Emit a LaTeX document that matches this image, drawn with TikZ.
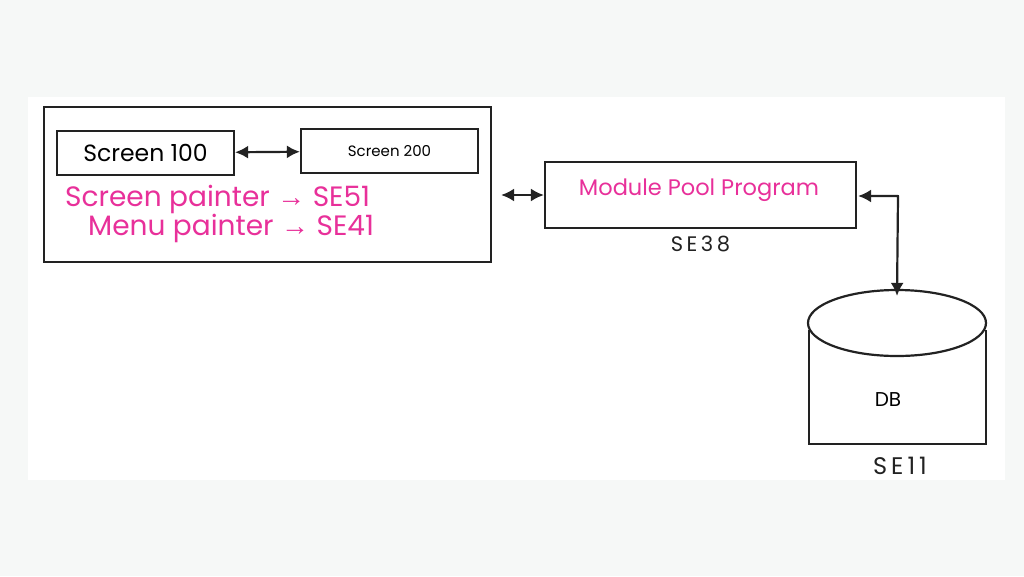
\documentclass[tikz,border=0pt]{standalone}
\usepackage{fontspec}
\setmainfont{Poppins}
\newfontfamily\arrowfont{Liberation Sans}
\usetikzlibrary{shapes.geometric,arrows.meta,positioning}
\definecolor{bgray}{HTML}{F6F8F7}
\definecolor{lgray}{HTML}{222222}
\definecolor{pinktxt}{HTML}{E8309A}
\tikzstyle{r} = [rectangle, draw=lgray, line width=2.2pt, inner sep=0pt]
\tikzstyle{con} = [draw=lgray, line width=2.2pt, {Latex[length=13pt,width=13pt]}-{Latex[length=13pt,width=13pt]}]
\tikzstyle{pinklabel} = [text=pinktxt, font=\fontsize{28}{29.5}\selectfont, anchor=west, align=left, inner sep=0pt]
\newcommand{\rarr}{{\arrowfont →}}

\begin{document}
\begin{tikzpicture}[x=1pt,y=-1pt]
		\fill[bgray] (0,0) rectangle (1024,576);
		\fill[white] (28,97) rectangle (1005,480);
		\useasboundingbox (0,0) rectangle (1024,576);

		\node[r, minimum width=447pt, minimum height=155pt] (screens) at (267.5,184.5) {};
		\node[r, minimum width=177pt, minimum height=44pt, font=\fontsize{23.5}{27}\selectfont] (s100) at (145.5,153) {Screen 100};
		\node[r, minimum width=177pt, minimum height=44pt, font=\fontsize{15}{18}\selectfont] (s200) at (389.5,151) {Screen 200};
		\node[pinklabel] (painters) at (65,214) {Screen painter \rarr{} SE51\\\hspace*{23pt}Menu painter \rarr{} SE41};

		\node[r, minimum width=311pt, minimum height=66pt] (mpp) at (700.5,195) {};
		\node[text=pinktxt, font=\fontsize{22.5}{26}\selectfont] (mpptext) at (699,190) {Module Pool Program};
		\node[below=3pt of mpp, font=\fontsize{21}{24}\selectfont, text=lgray] (se38) {S\,E\,3\,8};

		\node[ellipse, draw=lgray, line width=2.2pt, minimum width=178pt, minimum height=66pt, inner sep=0pt] (db) at (897,323) {};
		\node[font=\fontsize{20}{24}\selectfont, text=black] (dbtext) at (888,400) {DB};
		\node[font=\fontsize{24}{28}\selectfont, text=lgray] (se11) at (900,466) {S\,E\,1\,1};
		\coordinate (dbl) at (809,330);
		\coordinate (dbr) at (986,330);
		\coordinate (corner) at (898,196);

		\draw[con] (s100) -- (s200);
		\draw[con] ([xshift=9pt]screens.east |- mpp.west) -- (mpp.west);
		\draw[draw=lgray, line width=2.2pt, line join=round, {Latex[length=13pt,width=13pt]}-{Latex[length=13pt,width=13pt]}] ([xshift=1pt]mpp.east |- corner) -- (corner) -- ([yshift=-7pt]db.north);
		\draw[draw=lgray, line width=2.2pt] (dbl) -- (809,444) -- (986,444) -- (dbr);
\end{tikzpicture}
\end{document}
